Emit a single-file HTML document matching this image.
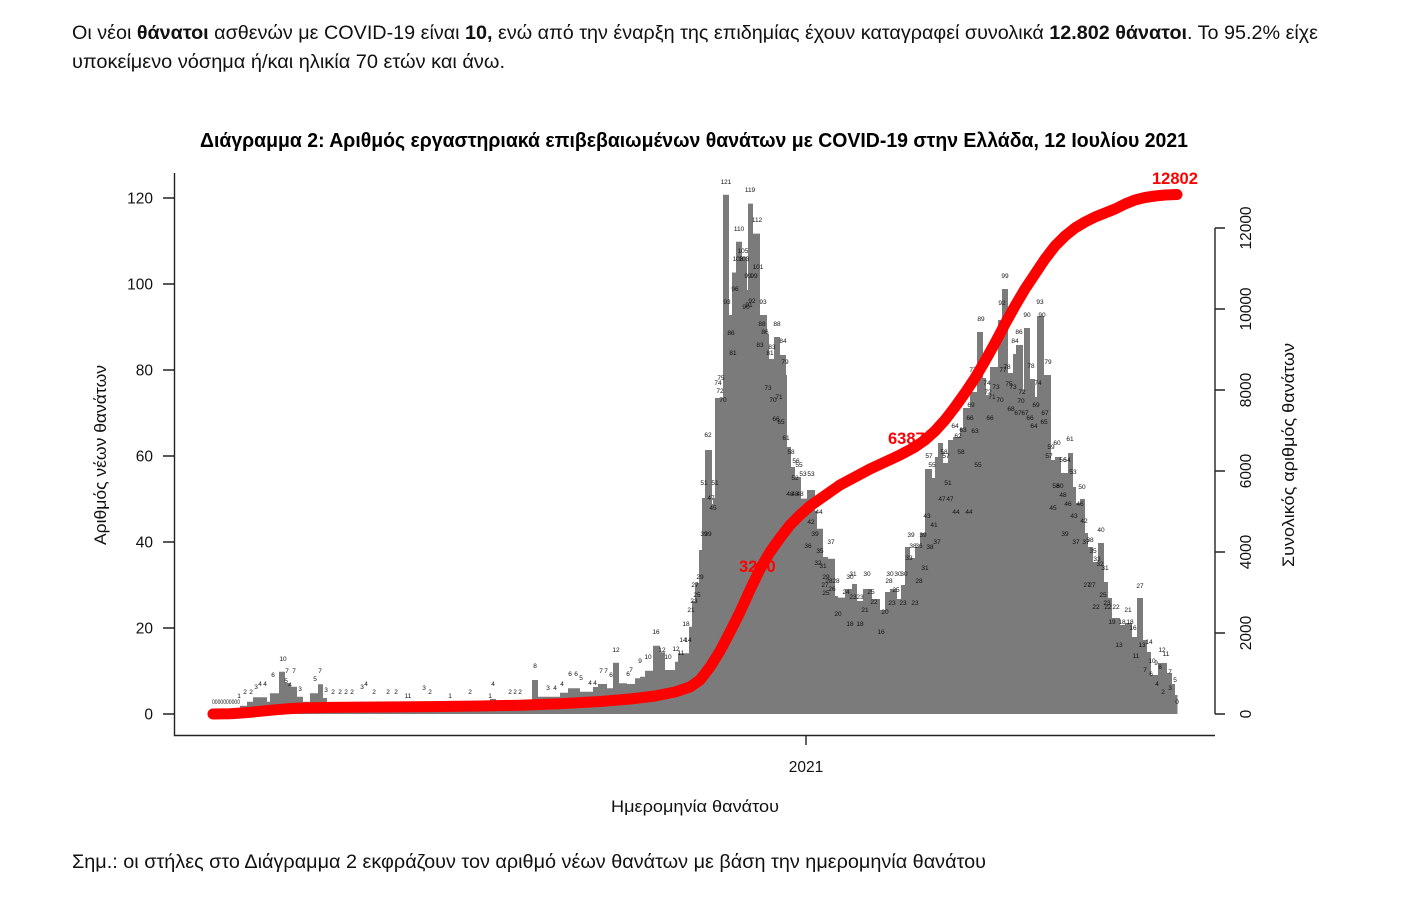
<!DOCTYPE html>
<html>
<head>
<meta charset="utf-8">
<style>
html,body{margin:0;padding:0;background:#fff;width:1414px;height:904px;overflow:hidden;}
svg{display:block;}
text{font-family:"Liberation Sans","DejaVu Sans",sans-serif;}
</style>
</head>
<body>
<svg width="1414" height="904" viewBox="0 0 1414 904" xmlns="http://www.w3.org/2000/svg">
<rect width="1414" height="904" fill="#fff"/>

<!-- Header -->
<text x="72" y="39" font-size="19" fill="#111" textLength="1246" lengthAdjust="spacingAndGlyphs">Οι νέοι <tspan font-weight="bold">θάνατοι</tspan> ασθενών με COVID-19 είναι <tspan font-weight="bold">10,</tspan> ενώ από την έναρξη της επιδημίας έχουν καταγραφεί συνολικά <tspan font-weight="bold">12.802 θάνατοι</tspan>.  Το 95.2% είχε</text>
<text x="72" y="68" font-size="19" fill="#111" textLength="433" lengthAdjust="spacingAndGlyphs">υποκείμενο νόσημα ή/και ηλικία 70 ετών και άνω.</text>

<!-- Title -->
<text x="200" y="147" font-size="20" font-weight="bold" fill="#000" textLength="988" lengthAdjust="spacingAndGlyphs">Διάγραμμα 2: Αριθμός εργαστηριακά επιβεβαιωμένων θανάτων με COVID-19 στην Ελλάδα, 12 Ιουλίου 2021</text>

<!-- Bars silhouette -->
<path fill="#7b7b7b" d="M212,714 H240 V705.7 H247 V701.7 H253 V697.3 H267 V701.7 H270 V693.3 H279 V671.7 H285 V683 H290 V686.7 H297 V696.7 H303 V701.7 H310 V693.3 H318 V684.3 H323 V698 H327 V703 H345 V705 H360 V706 H380 V708 H400 V705 H420 V707 H440 V706 H460 V707 H475 V704 H490 V699 H496 V705 H520 V704 H532 V680 H538 V696.7 H560 V692.7 H568 V688.3 H580 V691.7 H593 V687 H598 V684 H607 V688.3 H613 V662.7 H619 V683.3 H627 V684 H635 V678.3 H640 V676.7 H645 V670.7 H653 V645.7 H660 V652.3 H665 V670 H675 V661.7 H678 V653.3 H689 V626.7 H692 V601 H695 V583 H699 V550 H702 V498 H705 V450 H712 V504 H713 V498 H715 V398 H723 V194.7 H729 V315 H732 V272.5 H736 V241.7 H742 V256.6 H747 V290 H748 V203.6 H753 V233.6 H760 V315 H767 V334 H769 V359 H774 V337 H780 V355 H786 V375 H787 V447 H791 V467 H795 V477 H801 V498.6 H807 V490 H815 V511 H817 V528.7 H823 V557 H828 V558.7 H835 V596 H838 V597.6 H845 V589 H852 V584 H857 V601 H863 V589 H872 V599 H880 V610 H885 V592 H890 V589 H897 V599 H901 V585 H905 V547 H910 V558 H915 V547 H920 V533 H925 V469 H932 V478 H935 V457 H938 V443 H943 V463 H948 V440 H953 V437 H960 V428 H963 V408 H970 V392 H977 V332 H983 V378 H986 V395 H990 V367 H998 V320 H1002 V289 H1008 V373 H1013 V354 H1016 V345 H1023 V390 H1024 V328 H1030 V379 H1035 V397 H1037 V316 H1044 V375 H1051 V460 H1055 V457 H1061 V473 H1068 V453 H1073 V487 H1076 V503 H1080 V499 H1085 V533 H1088 V547 H1093 V562 H1098 V543 H1104 V582 H1108 V598 H1112 V618 H1120 V625 H1125 V623 H1132 V637 H1137 V598 H1143 V640 H1147 V652 H1151 V675 H1158 V663 H1167 V673 H1172 V684 H1175 V695 H1177.5 V714 Z"/>

<!-- Bar value labels -->
<g font-size="6.5" fill="#111" text-anchor="middle">
<text x="226" y="704" textLength="28" lengthAdjust="spacingAndGlyphs">0000000000</text>
<text x="239" y="698">1</text><text x="245" y="694">2</text><text x="251" y="694">2</text><text x="256" y="689">3</text>
<text x="260" y="686">4</text><text x="265" y="686">4</text><text x="273" y="677">6</text><text x="283" y="661">10</text>
<text x="287" y="673">7</text><text x="294" y="673">7</text><text x="286" y="683">5</text><text x="290" y="687">4</text>
<text x="300" y="691">3</text><text x="315" y="681">5</text><text x="320" y="673">7</text><text x="326" y="692">3</text>
<text x="333" y="694">2</text><text x="340" y="694">2</text><text x="346" y="694">2</text><text x="352" y="694">2</text>
<text x="362" y="689">3</text><text x="366" y="686">4</text><text x="374" y="694">2</text><text x="388" y="694">2</text>
<text x="396" y="694">2</text><text x="408" y="698">11</text><text x="424" y="690">3</text><text x="430" y="694">2</text>
<text x="450" y="698">1</text><text x="470" y="694">2</text><text x="493" y="686">4</text><text x="490" y="698">1</text>
<text x="510" y="694">2</text><text x="515" y="694">2</text><text x="520" y="694">2</text><text x="535" y="668">8</text>
<text x="548" y="690">3</text><text x="555" y="690">4</text><text x="562" y="686">4</text><text x="570" y="676">6</text>
<text x="576" y="676">6</text><text x="581" y="680">5</text><text x="590" y="685">4</text><text x="595" y="685">4</text>
<text x="601" y="673">7</text><text x="606" y="673">7</text><text x="611" y="677">6</text><text x="616" y="652">12</text>
<text x="628" y="676">6</text><text x="631" y="672">7</text><text x="640" y="663">9</text><text x="648" y="659">10</text>
<text x="656" y="634">16</text><text x="662" y="652">12</text><text x="668" y="659">10</text><text x="676" y="651">12</text>
<text x="681" y="655">11</text><text x="683" y="642">14</text><text x="688" y="642">14</text><text x="686" y="626">18</text>
<text x="691" y="612">21</text><text x="694" y="603">23</text><text x="697" y="597">25</text><text x="695" y="587">27</text>
<text x="700" y="579">29</text><text x="704" y="536">39</text><text x="708" y="536">39</text><text x="704" y="485">51</text>
<text x="715" y="485">51</text><text x="708" y="437">62</text><text x="711" y="500">47</text><text x="713" y="510">45</text>
<text x="718" y="385">74</text><text x="721" y="380">75</text><text x="720" y="393">72</text><text x="723" y="402">70</text>
<text x="726" y="184">121</text><text x="750" y="192">119</text><text x="739" y="231">110</text><text x="743" y="253">105</text>
<text x="738" y="261">103</text><text x="744" y="261">103</text><text x="757" y="222">112</text><text x="758" y="269">101</text>
<text x="748" y="278">99</text><text x="754" y="278">99</text><text x="735" y="291">96</text><text x="727" y="304">93</text>
<text x="746" y="309">90</text><text x="749" y="307">91</text><text x="752" y="303">92</text><text x="763" y="304">93</text>
<text x="762" y="326">88</text><text x="777" y="326">88</text><text x="765" y="334">86</text><text x="731" y="335">86</text>
<text x="783" y="343">84</text><text x="760" y="347">83</text><text x="772" y="349">83</text><text x="733" y="355">81</text>
<text x="770" y="355">81</text><text x="785" y="364">79</text><text x="768" y="390">73</text><text x="773" y="402">70</text>
<text x="779" y="399">71</text><text x="776" y="421">66</text><text x="781" y="424">65</text><text x="786" y="440">61</text>
<text x="791" y="454">58</text><text x="796" y="463">56</text><text x="799" y="467">55</text><text x="803" y="476">53</text>
<text x="811" y="476">53</text><text x="795" y="480">52</text><text x="790" y="496">48</text><text x="795" y="496">48</text>
<text x="800" y="496">48</text><text x="819" y="514">44</text><text x="811" y="524">42</text><text x="815" y="536">39</text>
<text x="831" y="544">37</text><text x="808" y="548">36</text><text x="820" y="553">35</text><text x="818" y="565">32</text>
<text x="823" y="568">31</text><text x="826" y="579">29</text><text x="829" y="583">28</text><text x="836" y="583">28</text>
<text x="825" y="587">27</text><text x="832" y="591">26</text><text x="826" y="595">25</text><text x="850" y="579">30</text>
<text x="853" y="576">31</text><text x="867" y="576">30</text><text x="846" y="594">24</text><text x="853" y="599">23</text>
<text x="860" y="599">23</text><text x="871" y="594">25</text><text x="838" y="616">20</text><text x="850" y="626">18</text>
<text x="860" y="626">18</text><text x="865" y="612">21</text><text x="874" y="604">22</text><text x="881" y="634">16</text>
<text x="885" y="614">20</text><text x="890" y="576">30</text><text x="889" y="583">28</text><text x="896" y="592">25</text>
<text x="898" y="576">30</text><text x="904" y="576">30</text><text x="892" y="605">23</text><text x="903" y="605">23</text>
<text x="915" y="605">23</text><text x="909" y="560">33</text><text x="911" y="537">39</text><text x="923" y="537">39</text>
<text x="913" y="548">38</text><text x="919" y="548">36</text><text x="919" y="583">28</text><text x="925" y="570">31</text>
<text x="930" y="549">38</text><text x="937" y="544">37</text><text x="927" y="518">43</text><text x="934" y="527">41</text>
<text x="929" y="458">57</text><text x="932" y="467">55</text><text x="944" y="454">58</text><text x="946" y="458">57</text>
<text x="948" y="485">51</text><text x="942" y="501">47</text><text x="950" y="501">47</text><text x="956" y="514">44</text>
<text x="969" y="514">44</text><text x="961" y="454">58</text><text x="978" y="467">55</text><text x="958" y="438">62</text>
<text x="955" y="428">64</text><text x="963" y="432">63</text><text x="975" y="433">63</text><text x="970" y="420">66</text>
<text x="990" y="420">66</text><text x="971" y="407">69</text><text x="973" y="372">77</text><text x="981" y="321">89</text>
<text x="987" y="385">74</text><text x="996" y="389">73</text><text x="988" y="394">72</text><text x="992" y="399">71</text>
<text x="1000" y="402">70</text><text x="1002" y="305">92</text><text x="1005" y="278">99</text><text x="1003" y="372">77</text>
<text x="1007" y="369">78</text><text x="1009" y="386">75</text><text x="1013" y="389">73</text><text x="1011" y="411">68</text>
<text x="1018" y="415">67</text><text x="1025" y="415">67</text><text x="1015" y="343">84</text><text x="1019" y="334">86</text>
<text x="1022" y="394">72</text><text x="1021" y="403">70</text><text x="1027" y="317">90</text><text x="1042" y="317">90</text>
<text x="1040" y="304">93</text><text x="1031" y="368">78</text><text x="1038" y="385">74</text><text x="1036" y="407">69</text>
<text x="1030" y="420">66</text><text x="1034" y="428">64</text><text x="1045" y="415">67</text><text x="1044" y="424">65</text>
<text x="1048" y="364">79</text><text x="1051" y="449">59</text><text x="1057" y="445">60</text><text x="1070" y="441">61</text>
<text x="1049" y="458">57</text><text x="1063" y="462">56</text><text x="1067" y="462">54</text><text x="1073" y="474">53</text>
<text x="1056" y="488">58</text><text x="1060" y="488">60</text><text x="1082" y="489">50</text><text x="1063" y="497">48</text>
<text x="1068" y="506">46</text><text x="1080" y="506">46</text><text x="1053" y="510">45</text><text x="1074" y="518">43</text>
<text x="1084" y="523">42</text><text x="1101" y="532">40</text><text x="1065" y="536">39</text><text x="1076" y="544">37</text>
<text x="1086" y="544">37</text><text x="1090" y="542">38</text><text x="1093" y="553">35</text><text x="1097" y="561">33</text>
<text x="1100" y="566">32</text><text x="1105" y="570">31</text><text x="1087" y="587">27</text><text x="1092" y="587">27</text>
<text x="1103" y="597">25</text><text x="1107" y="605">23</text><text x="1096" y="609">22</text><text x="1108" y="609">22</text>
<text x="1116" y="609">22</text><text x="1128" y="612">21</text><text x="1140" y="588">27</text><text x="1112" y="624">19</text>
<text x="1122" y="624">18</text><text x="1130" y="624">18</text><text x="1133" y="630">16</text><text x="1119" y="647">13</text>
<text x="1142" y="647">13</text><text x="1149" y="644">14</text><text x="1136" y="658">11</text><text x="1162" y="652">12</text>
<text x="1166" y="656">11</text><text x="1152" y="663">10</text><text x="1156" y="665">9</text><text x="1160" y="669">8</text>
<text x="1145" y="672">7</text><text x="1151" y="676">6</text><text x="1170" y="674">7</text><text x="1175" y="682">5</text>
<text x="1157" y="686">4</text><text x="1170" y="690">3</text><text x="1163" y="694">2</text><text x="1177" y="704">0</text>
</g>

<!-- Cumulative labels -->
<g font-size="16.5" font-weight="bold" fill="#ff0000">
<text x="739" y="572">3240</text>
<text x="888" y="444">6387</text>
<text x="1152" y="184">12802</text>
</g>

<!-- Cumulative curve -->
<polyline fill="none" stroke="#ff0000" stroke-width="11" stroke-linecap="round" stroke-linejoin="round"
points="213,714 230,713.8 245,712.8 260,711.3 275,709.8 290,708.6 305,707.9 330,707.4 380,707 430,706.6 480,706 520,705.2 560,703.8 600,701.5 630,699 655,696 675,692 690,687 700,680 710,667 720,651 730,632 740,612 750,590 760,569 770,552 780,538 790,525 800,515 810,506 820,499 830,492 840,485 855,477 870,469 885,462 900,455 915,447 925,440 935,431 945,420 955,407 965,393 975,378 985,361 995,343 1005,324 1015,306 1025,289 1035,274 1045,259 1055,246 1065,236 1075,228 1085,222 1095,217 1105,213 1115,209 1125,204 1135,200 1145,197.5 1155,196 1165,195 1177,194.5"/>

<!-- Axes -->
<g stroke="#222" stroke-width="1.4" fill="none">
<path d="M174.5,173 V735.5 H1215"/>
<path d="M163,198 H174.5 M163,284 H174.5 M163,370 H174.5 M163,456 H174.5 M163,542 H174.5 M163,628 H174.5 M163,714 H174.5"/>
<path d="M806,735.5 V745"/>
<path d="M1215,228 V714 M1215,714 H1225 M1215,633 H1225 M1215,552 H1225 M1215,471 H1225 M1215,390 H1225 M1215,309 H1225 M1215,228 H1225"/>
</g>

<!-- Left tick labels -->
<g font-size="15.5" fill="#111" text-anchor="end">
<text x="153" y="203.5">120</text>
<text x="153" y="289.5">100</text>
<text x="153" y="375.5">80</text>
<text x="153" y="461.5">60</text>
<text x="153" y="547.5">40</text>
<text x="153" y="633.5">20</text>
<text x="153" y="719.5">0</text>
</g>

<!-- Right tick labels -->
<g font-size="15.5" fill="#111" text-anchor="middle">
<text transform="translate(1251,714) rotate(-90)">0</text>
<text transform="translate(1251,633) rotate(-90)">2000</text>
<text transform="translate(1251,552) rotate(-90)">4000</text>
<text transform="translate(1251,471) rotate(-90)">6000</text>
<text transform="translate(1251,390) rotate(-90)">8000</text>
<text transform="translate(1251,309) rotate(-90)">10000</text>
<text transform="translate(1251,228) rotate(-90)">12000</text>
</g>

<!-- X tick label -->
<text x="806" y="772" font-size="15.5" fill="#111" text-anchor="middle">2021</text>

<!-- Axis titles -->
<text transform="translate(106,455) rotate(-90)" font-size="16.5" fill="#111" text-anchor="middle" textLength="180" lengthAdjust="spacingAndGlyphs">Αριθμός νέων θανάτων</text>
<text transform="translate(1294,455) rotate(-90)" font-size="16.5" fill="#111" text-anchor="middle" textLength="224" lengthAdjust="spacingAndGlyphs">Συνολικός αριθμός θανάτων</text>
<text x="611" y="812" font-size="16.5" fill="#111" textLength="168" lengthAdjust="spacingAndGlyphs">Ημερομηνία θανάτου</text>

<!-- Footer -->
<text x="72" y="868" font-size="19" fill="#111" textLength="914" lengthAdjust="spacingAndGlyphs">Σημ.: οι στήλες στο Διάγραμμα 2 εκφράζουν τον αριθμό νέων θανάτων με βάση την ημερομηνία θανάτου</text>
</svg>
</body>
</html>
